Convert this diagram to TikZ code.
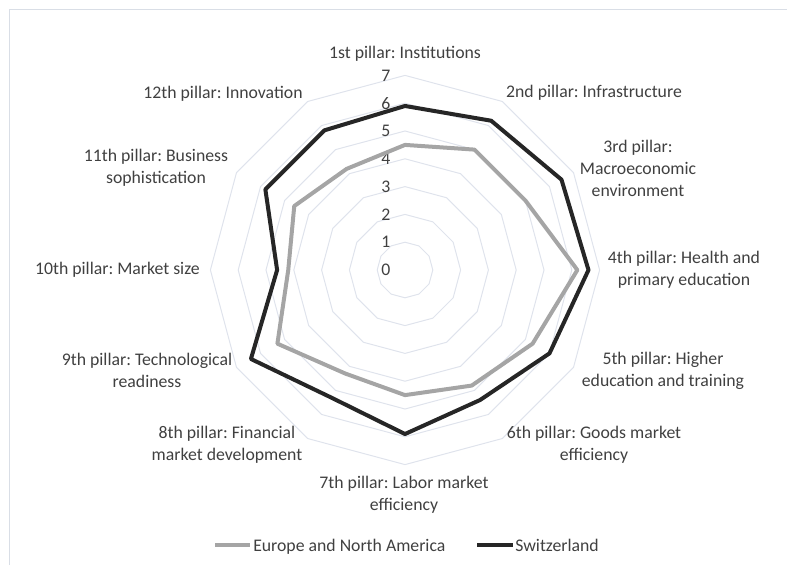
\documentclass[tikz,border=0pt]{standalone}
\usepackage{fontspec}
\setmainfont{Carlito}
\usepackage{xcolor}
\usetikzlibrary{positioning, calc}
\frenchspacing

\definecolor{gridcol}{HTML}{DFE3EC}
\definecolor{framecol}{HTML}{D9DEE6}
\definecolor{eugray}{HTML}{A5A5A5}
\definecolor{swissblack}{HTML}{262626}
\definecolor{textgray}{HTML}{404040}

\begin{document}
\begin{tikzpicture}[
    x=0.75pt, y=0.75pt,
    every node/.style={align=center, inner sep=0pt, text=textgray, font=\fontsize{13.3}{16.5}\selectfont},
    gridline/.style={draw=gridcol, line width=0.75pt},
    europe/.style={draw=eugray, line width=3pt, line join=round},
    swiss/.style={draw=swissblack, line width=3pt, line join=round},
    pillar/.style={},
    ticklabel/.style={anchor=east},
    legendtext/.style={anchor=base west}
]
\useasboundingbox (0,0) rectangle (787,565);

% Frame
\draw[framecol, line width=0.75pt] (9,0) -- (9,555) -- (787,555);

% Chart centre
\coordinate (c) at (405,295);

\begin{scope}[shift={(c)}, x=20.85pt, y=20.85pt]
% Grid
\foreach \r in {1,...,7}
  \draw[gridline] (90:\r) \foreach \a in {60,30,...,-240} {-- (\a:\r)} -- cycle;

% Scale
\foreach \r in {0,...,7}
  \node[ticklabel] (tick\r) at (-0.52,\r) {\r};

% Series
\draw[europe] (90:4.5) -- (60:5.0) -- (30:5.0) -- (0:6.2) -- (-30:5.3) -- (-60:4.8) -- (-90:4.5) -- (-120:4.3) -- (-150:5.3) -- (180:4.2) -- (150:4.6) -- (120:4.2) -- cycle;
\draw[swiss] (90:5.9) -- (60:6.2) -- (30:6.5) -- (0:6.6) -- (-30:6.0) -- (-60:5.4) -- (-90:5.9) -- (-120:5.3) -- (-150:6.4) -- (180:4.6) -- (150:5.8) -- (120:5.8) -- cycle;
\end{scope}

% Pillar labels
\node (inst) [pillar] at (405,511) {1st pillar: Institutions};
\node (infra) [pillar] at (594,472) {2nd pillar: Infrastructure};
\node (macro) [pillar] at (638,397) {3rd pillar:\\Macroeconomic\\environment};
\node (health) [pillar] at (684,295) {4th pillar: Health and\\primary education};
\node (higher) [pillar] at (663,194) {5th pillar: Higher\\education and training};
\node (goods) [pillar] at (594,120) {6th pillar: Goods market\\efficiency};
\node (labor) [pillar] at (404,70) {7th pillar: Labor market\\efficiency};
\node (financial) [pillar] at (227,120) {8th pillar: Financial\\market development};
\node (tech) [pillar] at (147,195) {9th pillar: Technological\\readiness};
\node (market) [pillar, anchor=east] at (200,295) {10th pillar: Market size};
\node (business) [pillar] at (156,397) {11th pillar: Business\\sophistication};
\node (innov) [pillar] at (223,471) {12th pillar: Innovation};

% Legend
\coordinate (eu1) at (215,20);
\coordinate (eu2) at (250,20);
\draw[europe] (eu1) -- (eu2);
\node (euText) [legendtext] at ($(eu2)+(3,-6)$) {Europe and North America};
\coordinate (ch1) at (477,20);
\coordinate (ch2) at (513,20);
\draw[swiss] (ch1) -- (ch2);
\node (chText) [legendtext] at ($(ch2)+(2,-6)$) {Switzerland};

\end{tikzpicture}
\end{document}
